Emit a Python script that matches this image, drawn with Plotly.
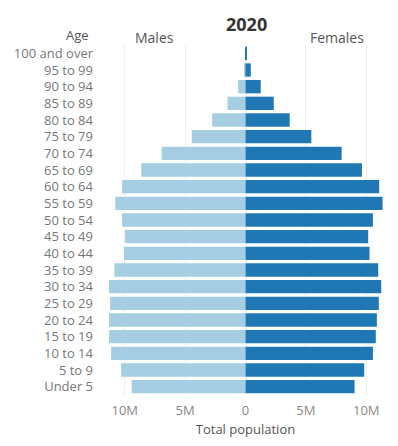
import plotly.graph_objects as go

# Age groups, bottom to top
age_groups = ["Under 5", "5 to 9", "10 to 14", "15 to 19", "20 to 24", "25 to 29",
              "30 to 34", "35 to 39", "40 to 44", "45 to 49", "50 to 54", "55 to 59",
              "60 to 64", "65 to 69", "70 to 74", "75 to 79", "80 to 84", "85 to 89",
              "90 to 94", "95 to 99", "100 and over"]

# Population in millions (2020)
males_m = [9.42, 10.30, 11.13, 11.30, 11.30, 11.21, 11.30, 10.86, 10.06, 9.97, 10.22,
           10.78, 10.22, 8.63, 6.94, 4.44, 2.76, 1.49, 0.61, 0.12, 0.02]
females_m = [9.03, 9.83, 10.55, 10.79, 10.88, 11.04, 11.24, 10.99, 10.27, 10.16, 10.55,
             11.35, 11.07, 9.64, 7.96, 5.45, 3.66, 2.34, 1.26, 0.44, 0.10]

tick_vals = [-10, -5, 0, 5, 10]
tick_text = ["10M", "5M", "0", "5M", "10M"]

MALE_COLOR = "#a6cee3"
FEMALE_COLOR = "#1f78b4"
FONT = "Open Sans"

# page body has an 8px margin: figure is drawn 8px right/down of the window corner
OFF = 8
W, H = 398 - OFF, 446 - OFF
ML, MR, MT, MB = 95, 9.5, 36.5, 51

fig = go.Figure()
fig.add_trace(go.Bar(
    y=age_groups, x=[-v for v in males_m], orientation="h",
    marker=dict(color=MALE_COLOR, line=dict(width=0)), name="Males",
))
fig.add_trace(go.Bar(
    y=age_groups, x=females_m, orientation="h",
    marker=dict(color=FEMALE_COLOR, line=dict(width=0)), name="Females",
))

fig.update_layout(
    width=W, height=H,
    margin=dict(l=ML, r=MR, t=MT, b=MB, autoexpand=False),
    barmode="relative",
    bargap=0.2,
    showlegend=False,
    plot_bgcolor="white",
    paper_bgcolor="white",
    font=dict(family=FONT, color="#666666", size=13),
    xaxis=dict(
        range=[-11.8, 11.8],
        tickvals=tick_vals, ticktext=tick_text,
        showgrid=True, gridcolor="#efefef", gridwidth=1,
        zeroline=False, showline=False, ticks="",
        tickfont=dict(size=13, color="#888888"),
        ticklabelstandoff=6,
        automargin=False,
        title=dict(text="Total population", font=dict(size=13, color="#555555"), standoff=6),
        fixedrange=True,
    ),
    yaxis=dict(
        categoryorder="array", categoryarray=age_groups,
        showgrid=False, zeroline=False, showline=False, ticks="",
        tickfont=dict(size=13, color="#777777"),
        ticklabelstandoff=9,
        automargin=False,
        fixedrange=True,
    ),
)

def paper_x(px):
    return (px - OFF - ML) / (W - ML - MR)

def paper_y(py):
    return (H - MB - (py - OFF)) / (H - MT - MB)

fig.add_annotation(text="<b>2020</b>", x=paper_x(246.5), y=paper_y(23), xref="paper", yref="paper",
                   showarrow=False, font=dict(size=18, color="#333333"),
                   xanchor="center", yanchor="middle")
fig.add_annotation(text="Males", x=paper_x(155), y=paper_y(37), xref="paper", yref="paper",
                   showarrow=False, font=dict(size=14, color="#555555"),
                   xanchor="center", yanchor="middle")
fig.add_annotation(text="Females", x=paper_x(337), y=paper_y(37), xref="paper", yref="paper",
                   showarrow=False, font=dict(size=14, color="#555555"),
                   xanchor="center", yanchor="middle")
fig.add_annotation(text="Age", x=paper_x(91), y=paper_y(34.5), xref="paper", yref="paper",
                   showarrow=False, font=dict(size=13, color="#555555"),
                   xanchor="right", yanchor="middle")

fig.write_html("out.html")
